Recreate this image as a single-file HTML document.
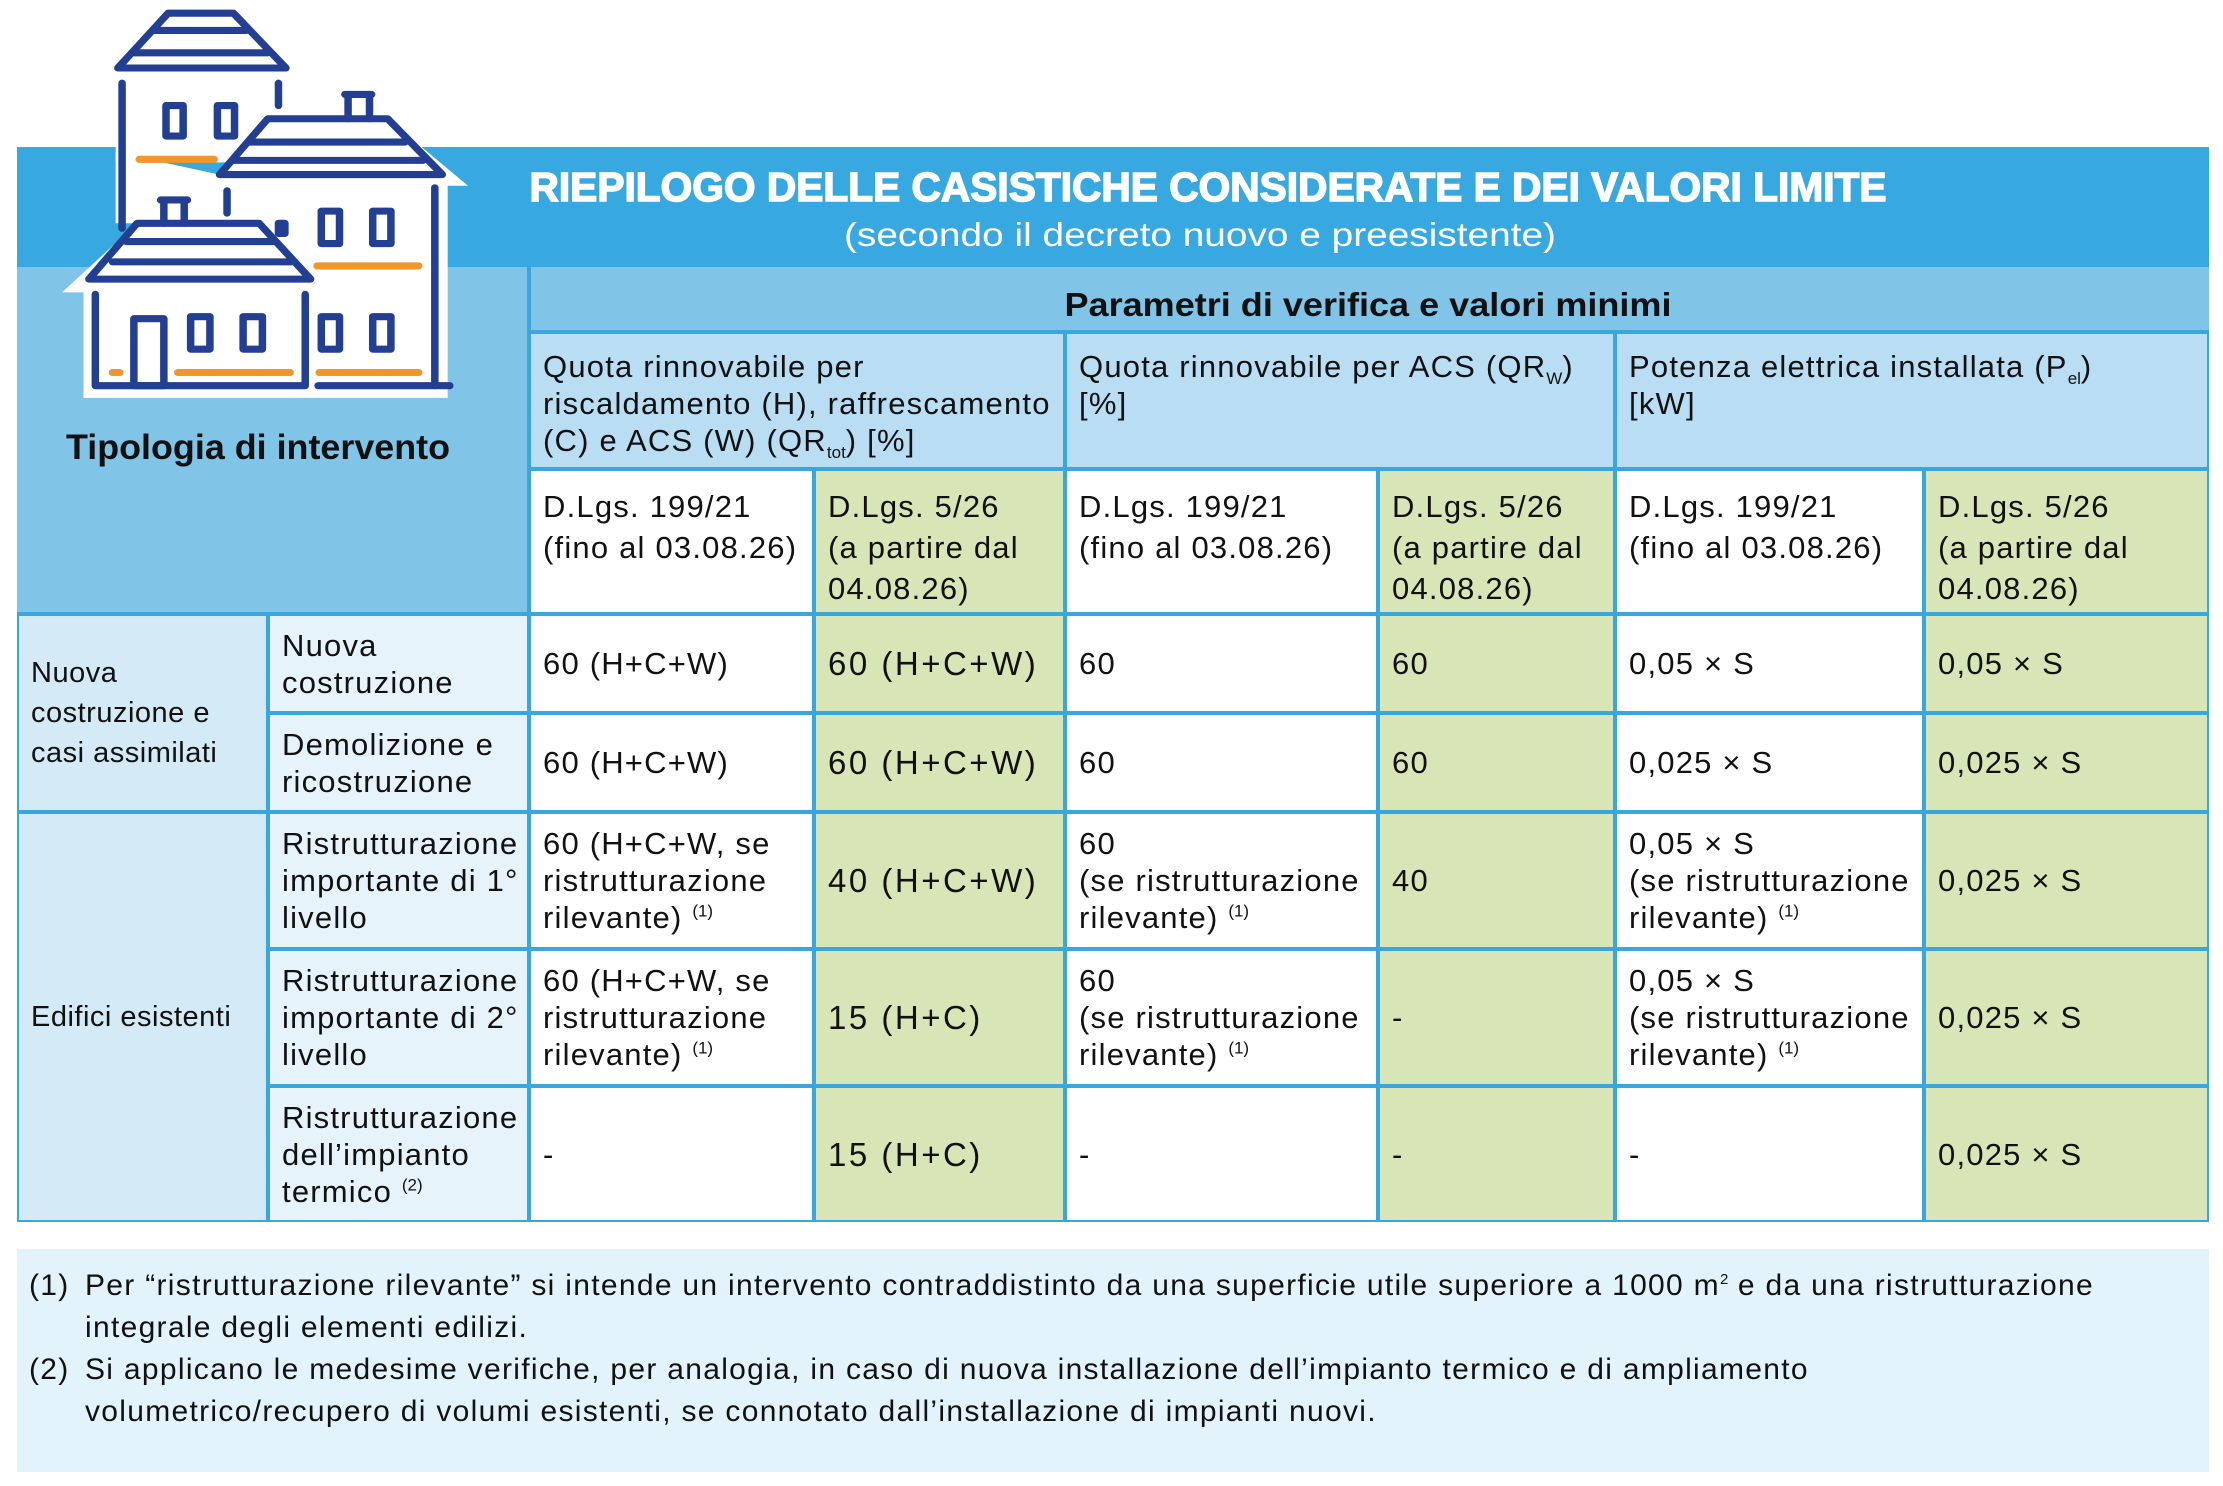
<!DOCTYPE html>
<html><head><meta charset="utf-8"><style>
body{margin:0;width:2223px;height:1486px;background:#fff;position:relative;overflow:hidden;font-family:"Liberation Sans",sans-serif;color:#111;}
.a{position:absolute;box-sizing:border-box;}
.c{position:absolute;box-sizing:border-box;display:flex;flex-direction:column;justify-content:center;padding-left:12px;font-size:31px;line-height:37px;letter-spacing:1.2px;}
.t{justify-content:flex-start;}
.w{background:#fff}.g{background:#d8e5b6}.lb{background:#e6f3fb}.lc{background:#d5eaf7}.hb{background:#b9ddf3}
.big{font-size:33px;letter-spacing:2.5px}
sup{font-size:17px;line-height:0;letter-spacing:0}
sub{font-size:17px;line-height:0;letter-spacing:0}
</style></head><body>
<div class="a" style="left:17px;top:147px;width:2192px;height:1075px;background:#3aa6de"></div>
<div class="a" style="left:17px;top:147px;width:2192px;height:120px;background:#38a8e0"></div>
<div class="a" style="left:17px;top:267px;width:510px;height:345px;background:#80c4e7"></div>
<div class="a" style="left:531px;top:267px;width:1678px;height:63px;background:#80c4e7"></div>
<svg class="a" style="left:0;top:0" width="2223" height="500">
<text x="1208" y="201" text-anchor="middle" font-family="Liberation Sans" font-weight="bold" font-size="41" fill="#fff" stroke="#fff" stroke-width="1.5" textLength="1357" lengthAdjust="spacingAndGlyphs">RIEPILOGO DELLE CASISTICHE CONSIDERATE E DEI VALORI LIMITE</text>
<text x="1200" y="246" text-anchor="middle" font-family="Liberation Sans" font-size="33" fill="#fff" textLength="712" lengthAdjust="spacingAndGlyphs">(secondo il decreto nuovo e preesistente)</text>
<text x="1368" y="316" text-anchor="middle" font-family="Liberation Sans" font-weight="bold" font-size="33" fill="#111" textLength="607" lengthAdjust="spacingAndGlyphs">Parametri di verifica e valori minimi</text>
<text x="258" y="459" text-anchor="middle" font-family="Liberation Sans" font-weight="bold" font-size="35" fill="#111" textLength="384" lengthAdjust="spacingAndGlyphs">Tipologia di intervento</text>
</svg>
<svg class="a" style="left:0;top:0" width="500" height="420">
<g transform="scale(1.071,1.015)">
<g fill="#fff">
<polygon points="108,70 157,13 218,13 270,70 270,160 108,160"/>
<polygon points="108,150 205,172 250,117 362,117 437,183 418,183 418,392 78,392 78,288 58,288 128,220 108,220"/>
</g>
<g stroke="#233f91" stroke-width="7" fill="none" stroke-linecap="round" stroke-linejoin="round">
<polygon points="110,67 157,13 218,13 267,67"/>
<line x1="145" y1="30" x2="230" y2="30"/><line x1="125" y1="52" x2="250" y2="52"/>
<line x1="114" y1="82" x2="114" y2="225"/>
<line x1="260" y1="82" x2="260" y2="104"/>
<rect x="155" y="104" width="16" height="30"/><rect x="203" y="104" width="16" height="30"/>
<polygon points="205,172 250,117 362,117 413,172"/>
<line x1="232" y1="140" x2="378" y2="140"/><line x1="218" y1="158" x2="395" y2="158"/>
<path d="M325,117 V93 H345 V117 M322,93 H347"/>
<line x1="406" y1="185" x2="406" y2="380"/>
<line x1="212" y1="188" x2="212" y2="210"/>
<rect x="300" y="208" width="17" height="32"/><rect x="348" y="208" width="17" height="32"/>
<rect x="300" y="312" width="17" height="32"/><rect x="348" y="312" width="17" height="32"/>
<line x1="297" y1="380" x2="420" y2="380"/>
<polygon points="83,275 128,220 242,220 290,275"/>
<line x1="118" y1="238" x2="255" y2="238"/><line x1="105" y1="258" x2="272" y2="258"/>
<path d="M153,220 V197 H172 V220 M150,197 H175"/>
<path d="M89,290 V380 H285 V290"/>
<rect x="125" y="314" width="28" height="66"/>
<rect x="178" y="312" width="18" height="32"/><rect x="227" y="312" width="18" height="32"/>
<rect x="260" y="220" width="6" height="10"/>
</g>
<g stroke="#f0962a" stroke-width="7" stroke-linecap="round">
<line x1="130" y1="157" x2="200" y2="157"/>
<line x1="296" y1="262" x2="391" y2="262"/>
<line x1="298" y1="367" x2="391" y2="367"/>
<line x1="105" y1="367" x2="112" y2="367"/>
<line x1="166" y1="367" x2="271" y2="367"/>
</g>
</g>
</svg>
<div class="c t hb" style="left:531px;top:334px;width:532px;height:133px;padding-top:14px"><div>Quota rinnovabile per<br>riscaldamento (H), raffrescamento<br>(C) e ACS (W) (QR<sub>tot</sub>) [%]</div></div>
<div class="c t hb" style="left:1067px;top:334px;width:546px;height:133px;padding-top:14px"><div>Quota rinnovabile per ACS (QR<sub>W</sub>)<br>[%]</div></div>
<div class="c t hb" style="left:1617px;top:334px;width:590px;height:133px;padding-top:14px"><div>Potenza elettrica installata (P<sub>el</sub>)<br>[kW]</div></div>
<div class="c t w" style="left:531px;top:471px;width:281px;height:141px;padding-top:15px;line-height:41px"><div>D.Lgs. 199/21<br>(fino al 03.08.26)</div></div>
<div class="c t g" style="left:816px;top:471px;width:247px;height:141px;padding-top:15px;line-height:41px"><div>D.Lgs. 5/26<br>(a partire dal<br>04.08.26)</div></div>
<div class="c t w" style="left:1067px;top:471px;width:309px;height:141px;padding-top:15px;line-height:41px"><div>D.Lgs. 199/21<br>(fino al 03.08.26)</div></div>
<div class="c t g" style="left:1380px;top:471px;width:233px;height:141px;padding-top:15px;line-height:41px"><div>D.Lgs. 5/26<br>(a partire dal<br>04.08.26)</div></div>
<div class="c t w" style="left:1617px;top:471px;width:305px;height:141px;padding-top:15px;line-height:41px"><div>D.Lgs. 199/21<br>(fino al 03.08.26)</div></div>
<div class="c t g" style="left:1926px;top:471px;width:281px;height:141px;padding-top:15px;line-height:41px"><div>D.Lgs. 5/26<br>(a partire dal<br>04.08.26)</div></div>
<div class="c lc" style="left:19px;top:616px;width:247px;height:194px;font-size:29px;line-height:40px;letter-spacing:0.5px"><div>Nuova<br>costruzione e<br>casi assimilati</div></div>
<div class="c lc" style="left:19px;top:814px;width:247px;height:406px;font-size:29px;letter-spacing:0.5px"><div>Edifici esistenti</div></div>
<div class="c lb" style="left:270px;top:616px;width:257px;height:95px"><div>Nuova<br>costruzione</div></div>
<div class="c w" style="left:531px;top:616px;width:281px;height:95px"><div>60 (H+C+W)</div></div>
<div class="c g big" style="left:816px;top:616px;width:247px;height:95px"><div>60 (H+C+W)</div></div>
<div class="c w" style="left:1067px;top:616px;width:309px;height:95px"><div>60</div></div>
<div class="c g" style="left:1380px;top:616px;width:233px;height:95px"><div>60</div></div>
<div class="c w" style="left:1617px;top:616px;width:305px;height:95px"><div>0,05 × S</div></div>
<div class="c g" style="left:1926px;top:616px;width:281px;height:95px"><div>0,05 × S</div></div>
<div class="c lb" style="left:270px;top:715px;width:257px;height:95px"><div>Demolizione e<br>ricostruzione</div></div>
<div class="c w" style="left:531px;top:715px;width:281px;height:95px"><div>60 (H+C+W)</div></div>
<div class="c g big" style="left:816px;top:715px;width:247px;height:95px"><div>60 (H+C+W)</div></div>
<div class="c w" style="left:1067px;top:715px;width:309px;height:95px"><div>60</div></div>
<div class="c g" style="left:1380px;top:715px;width:233px;height:95px"><div>60</div></div>
<div class="c w" style="left:1617px;top:715px;width:305px;height:95px"><div>0,025 × S</div></div>
<div class="c g" style="left:1926px;top:715px;width:281px;height:95px"><div>0,025 × S</div></div>
<div class="c lb" style="left:270px;top:814px;width:257px;height:133px"><div>Ristrutturazione<br>importante di 1°<br>livello</div></div>
<div class="c w" style="left:531px;top:814px;width:281px;height:133px"><div>60 (H+C+W, se<br>ristrutturazione<br>rilevante) <sup>(1)</sup></div></div>
<div class="c g big" style="left:816px;top:814px;width:247px;height:133px"><div>40 (H+C+W)</div></div>
<div class="c w" style="left:1067px;top:814px;width:309px;height:133px"><div>60<br>(se ristrutturazione<br>rilevante) <sup>(1)</sup></div></div>
<div class="c g" style="left:1380px;top:814px;width:233px;height:133px"><div>40</div></div>
<div class="c w" style="left:1617px;top:814px;width:305px;height:133px"><div>0,05 × S<br>(se ristrutturazione<br>rilevante) <sup>(1)</sup></div></div>
<div class="c g" style="left:1926px;top:814px;width:281px;height:133px"><div>0,025 × S</div></div>
<div class="c lb" style="left:270px;top:951px;width:257px;height:133px"><div>Ristrutturazione<br>importante di 2°<br>livello</div></div>
<div class="c w" style="left:531px;top:951px;width:281px;height:133px"><div>60 (H+C+W, se<br>ristrutturazione<br>rilevante) <sup>(1)</sup></div></div>
<div class="c g big" style="left:816px;top:951px;width:247px;height:133px"><div>15 (H+C)</div></div>
<div class="c w" style="left:1067px;top:951px;width:309px;height:133px"><div>60<br>(se ristrutturazione<br>rilevante) <sup>(1)</sup></div></div>
<div class="c g" style="left:1380px;top:951px;width:233px;height:133px"><div>-</div></div>
<div class="c w" style="left:1617px;top:951px;width:305px;height:133px"><div>0,05 × S<br>(se ristrutturazione<br>rilevante) <sup>(1)</sup></div></div>
<div class="c g" style="left:1926px;top:951px;width:281px;height:133px"><div>0,025 × S</div></div>
<div class="c lb" style="left:270px;top:1088px;width:257px;height:132px"><div>Ristrutturazione<br>dell’impianto<br>termico <sup>(2)</sup></div></div>
<div class="c w" style="left:531px;top:1088px;width:281px;height:132px"><div>-</div></div>
<div class="c g big" style="left:816px;top:1088px;width:247px;height:132px"><div>15 (H+C)</div></div>
<div class="c w" style="left:1067px;top:1088px;width:309px;height:132px"><div>-</div></div>
<div class="c g" style="left:1380px;top:1088px;width:233px;height:132px"><div>-</div></div>
<div class="c w" style="left:1617px;top:1088px;width:305px;height:132px"><div>-</div></div>
<div class="c g" style="left:1926px;top:1088px;width:281px;height:132px"><div>0,025 × S</div></div>
<div class="a" style="left:17px;top:1249px;width:2192px;height:223px;background:#e3f3fc;font-size:30px;letter-spacing:1.3px;line-height:42px;padding-top:16px;white-space:nowrap">
<div style="position:relative;padding-left:68px"><span style="position:absolute;left:12px">(1)</span>Per “ristrutturazione rilevante” si intende un intervento contraddistinto da una superficie utile superiore a 1000 m<sup style="font-size:15px">2</sup> e da una ristrutturazione<br>integrale degli elementi edilizi.</div>
<div style="position:relative;padding-left:68px"><span style="position:absolute;left:12px">(2)</span>Si applicano le medesime verifiche, per analogia, in caso di nuova installazione dell’impianto termico e di ampliamento<br>volumetrico/recupero di volumi esistenti, se connotato dall’installazione di impianti nuovi.</div>
</div>
</body></html>
